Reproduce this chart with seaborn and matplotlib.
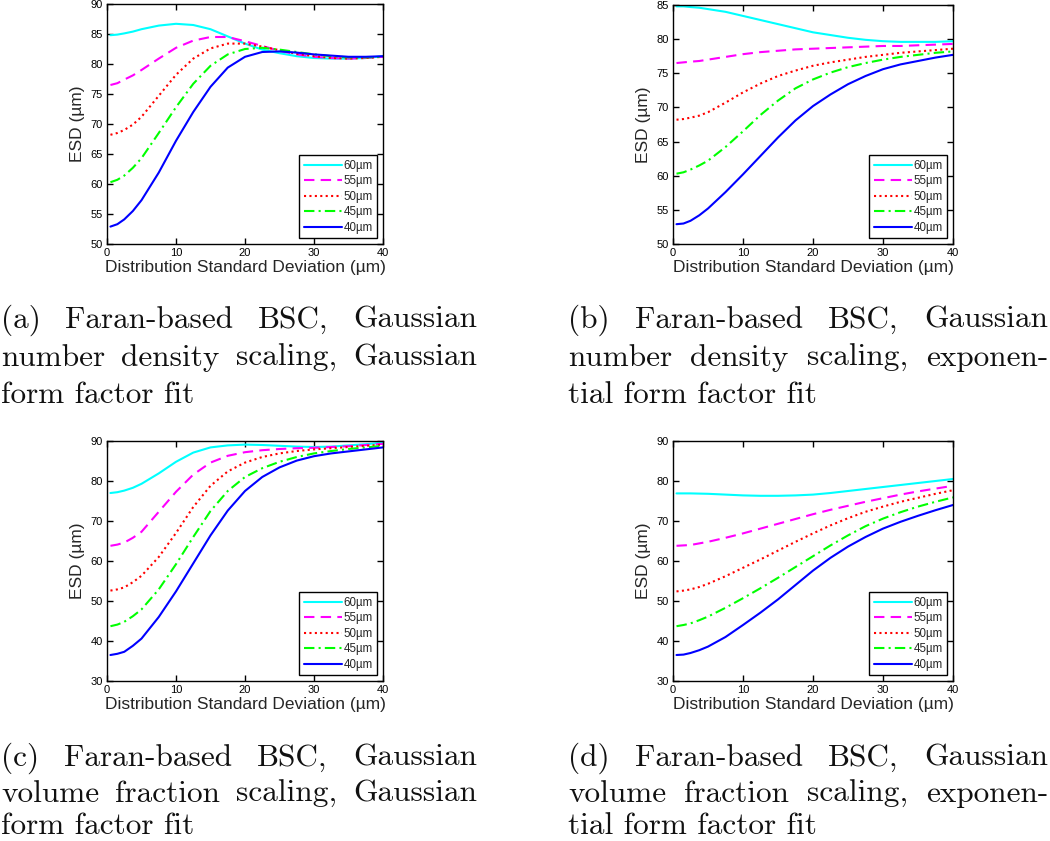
import matplotlib
matplotlib.use("Agg")
import matplotlib.pyplot as plt
import seaborn as sns

# ---------------- data ----------------
sigma = [0.5, 1.5, 2.5, 3.75, 5, 7.5, 10, 12.5, 15, 17.5, 20, 22.5, 25, 27.5, 30, 32.5, 35, 37.5, 40]
series_labels = ["60µm", "55µm", "50µm", "45µm", "40µm"]

# (a) number density scaling, Gaussian fit
a_60 = [84.8, 84.9, 85.1, 85.4, 85.8, 86.4, 86.7, 86.5, 85.8, 84.6, 83.4, 82.4, 81.8, 81.3, 81.0, 80.9, 80.9, 81.0, 81.3]
a_55 = [76.5, 76.8, 77.4, 78.1, 79.0, 80.9, 82.7, 83.9, 84.5, 84.5, 83.8, 83.0, 82.2, 81.6, 81.2, 81.0, 80.9, 81.0, 81.2]
a_50 = [68.2, 68.5, 69.0, 69.9, 71.2, 74.7, 78.2, 80.9, 82.6, 83.4, 83.4, 82.9, 82.3, 81.7, 81.3, 81.0, 80.9, 81.0, 81.2]
a_45 = [60.3, 60.7, 61.4, 62.7, 64.3, 68.5, 72.8, 76.7, 79.7, 81.6, 82.5, 82.7, 82.4, 82.0, 81.6, 81.3, 81.1, 81.1, 81.2]
a_40 = [52.9, 53.3, 54.1, 55.5, 57.3, 61.9, 67.2, 72.0, 76.2, 79.4, 81.2, 82.0, 82.1, 81.9, 81.6, 81.4, 81.2, 81.2, 81.3]

# (b) number density scaling, exponential fit
b_60 = [84.8, 84.8, 84.7, 84.6, 84.4, 84.0, 83.4, 82.8, 82.2, 81.6, 81.0, 80.6, 80.2, 79.9, 79.7, 79.6, 79.6, 79.6, 79.7]
b_55 = [76.5, 76.6, 76.7, 76.8, 77.0, 77.4, 77.8, 78.1, 78.3, 78.5, 78.6, 78.7, 78.8, 78.9, 79.0, 79.0, 79.1, 79.2, 79.3]
b_50 = [68.2, 68.3, 68.5, 68.8, 69.3, 70.7, 72.2, 73.5, 74.6, 75.4, 76.1, 76.6, 77.0, 77.4, 77.7, 78.0, 78.2, 78.4, 78.6]
b_45 = [60.3, 60.5, 60.9, 61.5, 62.2, 64.2, 66.5, 68.9, 71.0, 72.8, 74.1, 75.1, 75.9, 76.5, 77.0, 77.4, 77.7, 78.0, 78.2]
b_40 = [52.9, 53.0, 53.4, 54.2, 55.2, 57.6, 60.2, 62.9, 65.6, 68.1, 70.2, 71.9, 73.4, 74.6, 75.6, 76.3, 76.8, 77.3, 77.7]

# (c) volume fraction scaling, Gaussian fit
c_60 = [77.0, 77.2, 77.6, 78.3, 79.3, 81.9, 84.8, 87.1, 88.4, 88.9, 89.1, 89.0, 88.8, 88.6, 88.5, 88.6, 88.9, 89.2, 89.6]
c_55 = [63.8, 64.1, 64.6, 65.8, 67.3, 72.3, 77.3, 81.6, 84.6, 86.3, 87.2, 87.7, 88.0, 88.2, 88.3, 88.5, 88.7, 89.0, 89.3]
c_50 = [52.6, 52.9, 53.4, 54.7, 56.3, 61.0, 67.0, 73.5, 78.8, 82.4, 84.6, 86.0, 86.9, 87.5, 87.9, 88.2, 88.5, 88.8, 89.1]
c_45 = [43.7, 44.1, 44.8, 46.2, 47.9, 52.9, 59.2, 66.0, 72.5, 77.5, 81.0, 83.2, 84.8, 86.0, 86.9, 87.5, 88.0, 88.4, 88.8]
c_40 = [36.5, 36.8, 37.3, 38.8, 40.6, 46.0, 52.4, 59.4, 66.4, 72.6, 77.5, 81.0, 83.4, 85.1, 86.2, 86.9, 87.4, 87.9, 88.4]

# (d) volume fraction scaling, exponential fit
d_60 = [76.9, 76.9, 76.9, 76.85, 76.8, 76.6, 76.4, 76.3, 76.3, 76.4, 76.6, 77.0, 77.5, 78.0, 78.5, 79.0, 79.5, 80.0, 80.5]
d_55 = [63.8, 63.9, 64.0, 64.4, 64.8, 65.8, 66.9, 68.1, 69.3, 70.5, 71.7, 72.8, 73.8, 74.8, 75.7, 76.6, 77.4, 78.1, 78.8]
d_50 = [52.4, 52.6, 52.9, 53.5, 54.3, 56.2, 58.3, 60.4, 62.6, 64.8, 66.9, 68.9, 70.7, 72.3, 73.6, 74.8, 75.8, 76.8, 77.7]
d_45 = [43.7, 44.0, 44.4, 45.2, 46.1, 48.3, 50.7, 53.2, 55.8, 58.5, 61.2, 63.9, 66.4, 68.7, 70.6, 72.2, 73.6, 74.8, 75.9]
d_40 = [36.5, 36.6, 37.0, 37.7, 38.6, 41.0, 44.0, 47.1, 50.4, 54.0, 57.6, 60.8, 63.6, 66.0, 68.1, 69.8, 71.3, 72.7, 74.0]

x_ticks = [0, 10, 20, 30, 40]
a_yticks = [50, 55, 60, 65, 70, 75, 80, 85, 90]
b_yticks = [50, 55, 60, 65, 70, 75, 80, 85]
cd_yticks = [30, 40, 50, 60, 70, 80, 90]

cap_a = ["(a) Faran-based BSC, Gaussian", "number density scaling, Gaussian", "form factor fit"]
cap_b = ["(b) Faran-based BSC, Gaussian", "number density scaling, exponen-", "tial form factor fit"]
cap_c = ["(c) Faran-based BSC, Gaussian", "volume fraction scaling, Gaussian", "form factor fit"]
cap_d = ["(d) Faran-based BSC, Gaussian", "volume fraction scaling, exponen-", "tial form factor fit"]

xlabel = "Distribution Standard Deviation (µm)"
ylabel = "ESD (µm)"

# ---------------- style ----------------
sns.set_style("ticks")
plt.rcParams["font.family"] = ["Liberation Sans", "DejaVu Sans"]

colors = ["#00FFFF", "#FF00FF", "#FF0000", "#00FF00", "#0000FF"]
lstyles = ["-", (0, (5, 3)), (0, (1, 1.6)), (0, (5, 2, 1, 2)), "-"]

W, H = 1050, 841
fig = plt.figure(figsize=(W / 100, H / 100), dpi=100)


def px_axes(l, t, r, b):
    return fig.add_axes([l / W, 1 - b / H, (r - l) / W, (b - t) / H])


panels = [
    (px_axes(107, 4, 383, 244), [a_60, a_55, a_50, a_45, a_40], (50, 90), a_yticks),
    (px_axes(673, 5, 953, 244), [b_60, b_55, b_50, b_45, b_40], (50, 85), b_yticks),
    (px_axes(107, 441, 383, 681), [c_60, c_55, c_50, c_45, c_40], (30, 90), cd_yticks),
    (px_axes(673, 441, 953, 681), [d_60, d_55, d_50, d_45, d_40], (30, 90), cd_yticks),
]

for ax, series, ylim, yt in panels:
    for vals, lab, c, ls in zip(series, series_labels, colors, lstyles):
        sns.lineplot(x=sigma, y=vals, ax=ax, color=c, linestyle=ls, lw=1.5,
                     label=lab, solid_joinstyle="round")
    ax.set_xlim(0, 40)
    ax.set_ylim(*ylim)
    ax.set_xticks(x_ticks)
    ax.set_yticks(yt)
    ax.tick_params(direction="in", top=True, right=True, length=4.5, width=1.0,
                   pad=3, labelsize=8, colors="black")
    for s in ax.spines.values():
        s.set_linewidth(1.0)
        s.set_color("black")
    ax.set_xlabel(xlabel, fontsize=12.5, labelpad=1)
    ax.set_ylabel(ylabel, fontsize=12.5, labelpad=4)
    leg = ax.legend(loc="lower right", fontsize=8.3, handlelength=3.3,
                    handletextpad=0.15, labelspacing=0.3, borderpad=0.4,
                    borderaxespad=0.5, fancybox=False, framealpha=1,
                    edgecolor="black")
    leg.get_frame().set_linewidth(1.0)

# ---------------- captions (justified) ----------------
fig.canvas.draw()
rend = fig.canvas.get_renderer()
cap_font = dict(family="cmr10", fontsize=22.5, va="baseline", ha="left", color="#111111")


def caption(lines, x0, x1, baselines):
    for i, (line, yb) in enumerate(zip(lines, baselines)):
        if i == len(lines) - 1:
            fig.text(x0 / W, 1 - yb / H, line, **cap_font)
            continue
        words = line.split()
        texts = [fig.text(0, 0, w, **cap_font) for w in words]
        widths = [t.get_window_extent(rend).width for t in texts]
        gap = (x1 - x0 - sum(widths)) / (len(words) - 1)
        x = x0
        for t, w in zip(texts, widths):
            t.set_position((x / W, 1 - yb / H))
            x += w + gap


caption(cap_a, 1, 477, [328, 366, 403])
caption(cap_b, 568, 1048, [328, 366, 403])
caption(cap_c, 1, 477, [766, 802, 834])
caption(cap_d, 568, 1048, [766, 802, 834])

fig.savefig("out.png", dpi=100)
